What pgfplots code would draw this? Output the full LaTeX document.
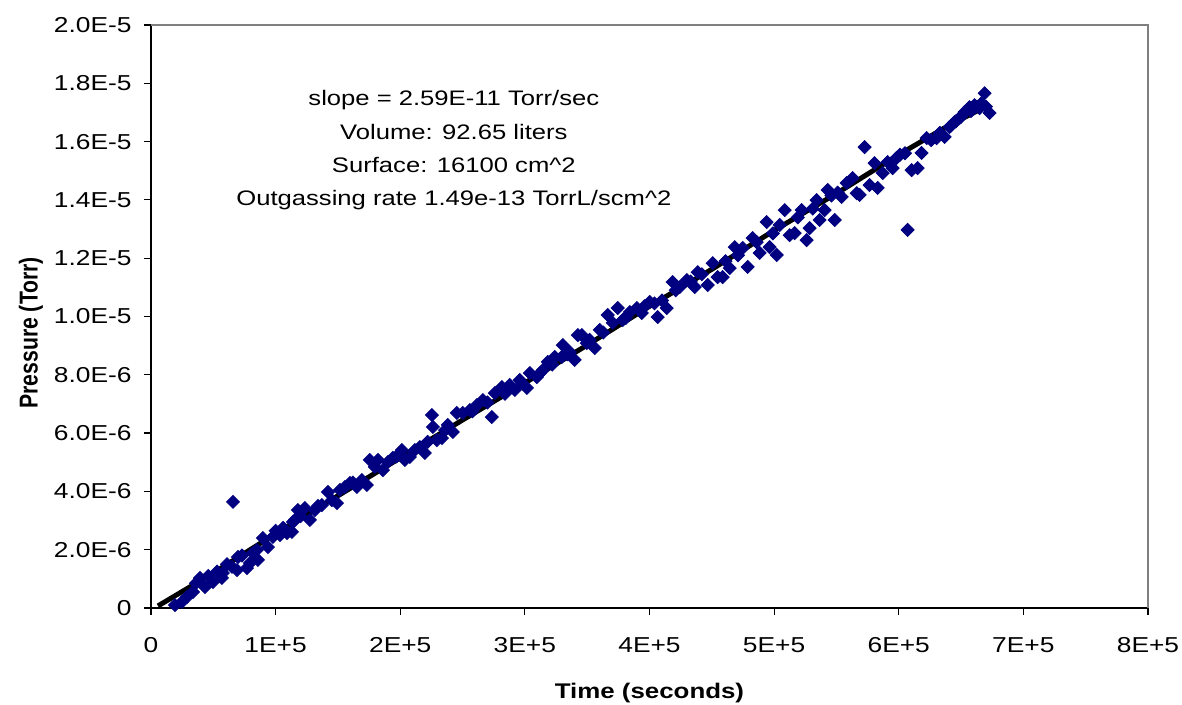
\documentclass[border=0pt]{standalone}
\usepackage{graphicx}
\usepackage{pgfplots}
\pgfplotsset{compat=1.18}
\usepackage{fontspec}
\setmainfont{Liberation Sans}[FakeStretch=1.22]
\newfontfamily\plainsans{Liberation Sans}
\usetikzlibrary{calc}
\definecolor{navy}{RGB}{0,0,128}
\begin{document}
\begin{tikzpicture}
\begin{axis}[
  name=ax, at={(0,0)}, anchor=south west,
  width=498.5pt, height=291.5pt, scale only axis,
  xmin=0, xmax=800000, ymin=0, ymax=2e-5,
  axis lines=left, axis line style={-, black, line width=0.7pt},
  tick align=outside, major tick length=3.5pt,
  tick style={black, line width=0.6pt},
  xtick={0,100000,200000,300000,400000,500000,600000,700000,800000},
  xticklabels={0,1E+5,2E+5,3E+5,4E+5,5E+5,6E+5,7E+5,8E+5},
  ytick={0,2e-6,4e-6,6e-6,8e-6,1e-5,1.2e-5,1.4e-5,1.6e-5,1.8e-5,2e-5},
  yticklabels={0,2.0E-6,4.0E-6,6.0E-6,8.0E-6,1.0E-5,1.2E-5,1.4E-5,1.6E-5,1.8E-5,2.0E-5},
  scaled ticks=false,
  /pgf/number format/assume math mode=true,
  ticklabel style={font=\fontsize{10.8}{13}\selectfont},
  xticklabel style={anchor=north, inner sep=0pt, yshift=-11pt},
  yticklabel style={anchor=east, inner sep=0pt, xshift=-6pt},
  xlabel={Time (seconds)}, ylabel={\scalebox{1}[1.22]{Pressure (Torr)}},
  xlabel style={font=\bfseries\fontsize{10.6}{13}\selectfont, at={(axis description cs:0.5,0)}, anchor=base, yshift=-45.5pt},
  ylabel style={font=\plainsans\bfseries\fontsize{10.6}{13}\selectfont, at={(axis description cs:0,0.472)}, anchor=center, yshift=60pt},
  clip=false,
]
\addplot[only marks, mark=square*, mark size=2.3pt, color=navy, mark options={rotate=45, draw=navy, fill=navy}] table[x=t, y=p] {
t p
19200 0.10e-6
24900 0.21e-6
28900 0.38e-6
33700 0.55e-6
36000 0.85e-6
39300 1.03e-6
43300 0.72e-6
46000 1.10e-6
49700 0.89e-6
53000 1.25e-6
56900 1.03e-6
57700 1.20e-6
61000 1.50e-6
65000 1.41e-6
65800 3.64e-6
69800 1.75e-6
69000 1.30e-6
73000 1.80e-6
77000 1.37e-6
79400 1.54e-6
81800 1.89e-6
85800 1.65e-6
85000 1.99e-6
89800 2.40e-6
93800 2.09e-6
97800 2.44e-6
100000 2.65e-6
103500 2.50e-6
106000 2.75e-6
109100 2.57e-6
113100 2.61e-6
113900 2.95e-6
115500 3.02e-6
117900 3.36e-6
120000 3.15e-6
123500 3.43e-6
127500 3.02e-6
131500 3.36e-6
134000 3.50e-6
137100 3.53e-6
142000 3.98e-6
145200 3.70e-6
149200 3.60e-6
151600 4.05e-6
155600 4.15e-6
159600 4.29e-6
162000 4.30e-6
165200 4.15e-6
169200 4.39e-6
173200 4.22e-6
175600 5.08e-6
179600 4.84e-6
182100 5.08e-6
186100 4.73e-6
190100 5.01e-6
194100 5.15e-6
197000 5.20e-6
201300 5.42e-6
203700 5.08e-6
207700 5.18e-6
211700 5.42e-6
215700 5.52e-6
219700 5.32e-6
222000 5.70e-6
225400 6.62e-6
226200 6.21e-6
229400 5.76e-6
233400 5.83e-6
236000 6.10e-6
238200 6.28e-6
242200 6.04e-6
245400 6.69e-6
250200 6.69e-6
255800 6.79e-6
258000 6.75e-6
261500 6.96e-6
266300 7.13e-6
270000 7.05e-6
273500 6.55e-6
275900 7.37e-6
281500 7.58e-6
284000 7.35e-6
287900 7.65e-6
291900 7.48e-6
295900 7.82e-6
298000 7.70e-6
301600 7.55e-6
304000 8.06e-6
309600 7.92e-6
312000 8.05e-6
314400 8.16e-6
318400 8.44e-6
322000 8.35e-6
324000 8.61e-6
329600 8.61e-6
330400 9.02e-6
334000 8.70e-6
336000 8.78e-6
340000 8.51e-6
342500 9.36e-6
345700 9.36e-6
349700 9.09e-6
352000 9.20e-6
356100 8.92e-6
360100 9.54e-6
363000 9.45e-6
366500 10.05e-6
370500 9.78e-6
374500 10.29e-6
378500 9.88e-6
381000 9.95e-6
384200 10.15e-6
389800 10.29e-6
393800 10.12e-6
396000 10.35e-6
400200 10.50e-6
404000 10.45e-6
406600 9.98e-6
410000 10.55e-6
413800 10.29e-6
418600 11.18e-6
421000 10.90e-6
424300 11.01e-6
429900 11.25e-6
433000 11.20e-6
436300 11.01e-6
438700 11.52e-6
442000 11.45e-6
446700 11.08e-6
450700 11.83e-6
454700 11.35e-6
458700 11.35e-6
461000 11.90e-6
464400 11.66e-6
468400 12.38e-6
471000 12.10e-6
474800 12.35e-6
478800 11.70e-6
482800 12.69e-6
486000 12.55e-6
488400 12.18e-6
494000 13.24e-6
496400 12.38e-6
499000 12.85e-6
502100 12.11e-6
504500 13.14e-6
508500 13.65e-6
512500 12.79e-6
516500 12.86e-6
519000 13.40e-6
522100 13.65e-6
526100 12.62e-6
528500 13.03e-6
531000 13.70e-6
534100 13.99e-6
536500 13.31e-6
540500 13.65e-6
543000 14.34e-6
546000 14.15e-6
548600 13.31e-6
551000 14.25e-6
554200 14.10e-6
558200 14.58e-6
563000 14.75e-6
566200 14.23e-6
568600 14.17e-6
572600 15.81e-6
576600 14.51e-6
580600 15.26e-6
583100 14.41e-6
587100 14.92e-6
591100 15.30e-6
595100 15.09e-6
598300 15.44e-6
601000 15.55e-6
605000 15.60e-6
607100 12.97e-6
610300 15.02e-6
615100 15.09e-6
618300 15.61e-6
622400 16.12e-6
626000 16.05e-6
630400 16.12e-6
633000 16.30e-6
636800 16.16e-6
640800 16.50e-6
642000 16.55e-6
644800 16.67e-6
646000 16.70e-6
648800 16.81e-6
650000 16.85e-6
652800 17.01e-6
656800 17.18e-6
658000 17.05e-6
660800 17.25e-6
662000 17.20e-6
664900 17.15e-6
666000 17.30e-6
668900 17.66e-6
670000 17.20e-6
672900 16.98e-6
};
\addplot[black, line width=2.5pt] coordinates {
(5600,0.07e-6) (50000,1.20e-6) (100000,2.55e-6) (150000,3.85e-6) (200000,5.15e-6) (250000,6.45e-6) (300000,7.72e-6) (350000,9.02e-6) (400000,10.35e-6) (450000,11.62e-6) (500000,12.95e-6) (550000,14.22e-6) (600000,15.55e-6) (640000,16.55e-6) (672000,17.25e-6)
};
\draw[gray, line width=0.7pt] (rel axis cs:0,1) -- (rel axis cs:1,1) -- (rel axis cs:1,0);
\node[align=center, font=\fontsize{10.5}{16.7}\selectfont] at (axis cs:243000,15.7e-6) {slope = 2.59E-11 Torr/sec\\Volume: 92.65 liters\\Surface: 16100 cm\textasciicircum 2\\Outgassing rate 1.49e-13 TorrL/scm\textasciicircum 2};
\coordinate (sw) at (rel axis cs:0,0);
\coordinate (ne) at (rel axis cs:1,1);
\end{axis}
\pgfresetboundingbox
\path[use as bounding box] ($(sw)+(-75.5pt,-48.5pt)$) rectangle ($(ne)+(17pt,12.5pt)$);
\end{tikzpicture}
\end{document}
